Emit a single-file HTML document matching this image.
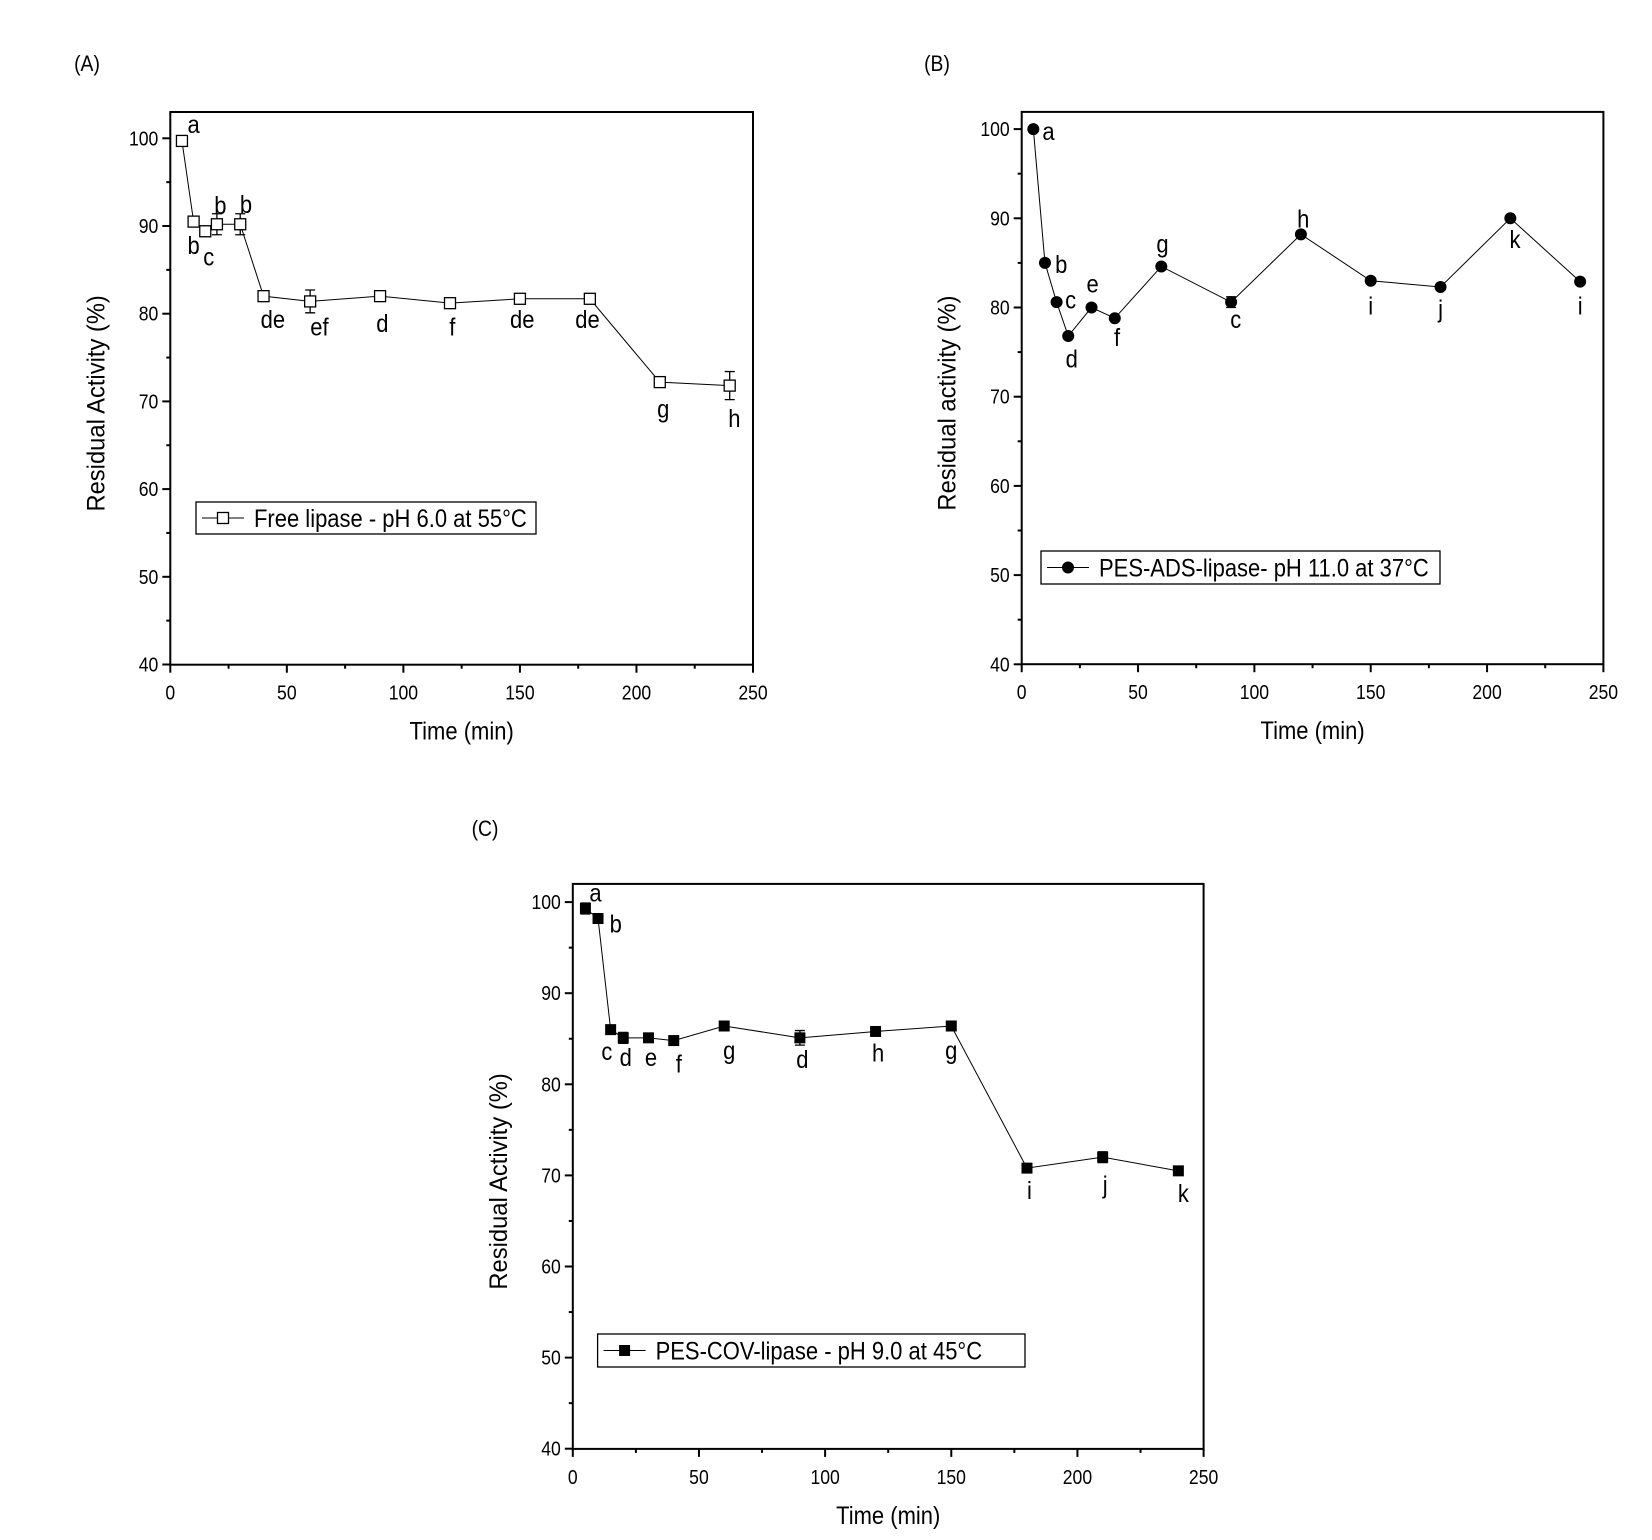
<!DOCTYPE html>
<html><head><meta charset="utf-8"><style>
html,body{margin:0;padding:0;background:#fff;}
svg{display:block;font-family:"Liberation Sans",Arial,sans-serif;}
</style></head><body>
<svg id="s" width="1652" height="1540" viewBox="0 0 1652 1540" xmlns="http://www.w3.org/2000/svg"></svg>
<script>
const S=document.getElementById('s');let h='';
function sq(x,y,fs,anchor,txt,extra){ // condensed text
 return `<text transform="translate(${x},${y}) scale(0.88,1)${extra||''}" font-size="${fs}" text-anchor="${anchor}">${txt}</text>`;
}
function panel(p){
 const X=v=>p.l+(v/250)*(p.r-p.l), Y=v=>p.y100+(100-v)/10*p.k;
 h+=`<rect x="${p.l}" y="${p.t}" width="${p.r-p.l}" height="${p.b-p.t}" fill="none" stroke="#000" stroke-width="2"/>`;
 for(let v=0;v<=250;v+=25){const x=X(v),maj=v%50==0;h+=`<line x1="${x}" y1="${p.b}" x2="${x}" y2="${p.b+(maj?8:4)}" stroke="#000" stroke-width="2"/>`;
  if(maj)h+=sq(x,p.b+35,20,'middle',v);}
 for(let v=40;v<=100;v+=5){const y=Y(v),maj=v%10==0;h+=`<line x1="${p.l}" y1="${y}" x2="${p.l-(maj?8:4)}" y2="${y}" stroke="#000" stroke-width="2"/>`;
  if(maj)h+=sq(p.l-12,y+7,20,'end',v);}
 h+=sq((p.l+p.r)/2,p.b+75,25,'middle','Time (min)');
 const cy=(p.t+p.b)/2+p.yo;
 h+=`<text transform="translate(${p.l-66},${cy}) rotate(-90) scale(0.95,1)" font-size="25" text-anchor="middle">${p.yt}</text>`;
 h+=sq(p.pl[0],p.pl[1],22,'middle',p.name);
 let pts=p.d.map(d=>[X(d[0]),Y(d[1])]);
 h+=`<polyline points="${pts.map(q=>q.join(',')).join(' ')}" fill="none" stroke="#000" stroke-width="1"/>`;
 p.d.forEach(d=>{const x=X(d[0]),y=Y(d[1]);
  if(d[2]){const e=d[2]*p.k/10;h+=`<path d="M${x},${y-e}V${y+e}M${x-5},${y-e}H${x+5}M${x-5},${y+e}H${x+5}" stroke="#000" stroke-width="1.3"/>`;}
  h+=mk(p.m,x,y);});
 p.lab.forEach(a=>{h+=sq(X(a[1]),Y(a[2])+1,25,'middle',a[0]);});
 const L=p.leg;h+=`<rect x="${L[0]}" y="${L[1]}" width="${L[2]-L[0]}" height="${L[3]-L[1]}" fill="#fff" stroke="#000" stroke-width="1.3"/>`;
 const ly=(L[1]+L[3])/2;h+=`<line x1="${L[0]+6}" y1="${ly}" x2="${L[0]+48}" y2="${ly}" stroke="#000"/>`+mk(p.m,L[0]+27,ly);
 h+=sq(L[0]+58,ly+9,25,'start',p.lt);
}
function mk(m,x,y){
 if(m=='o')return `<rect x="${x-5.5}" y="${y-5.5}" width="11" height="11" fill="#fff" stroke="#000" stroke-width="1.3"/>`;
 if(m=='c')return `<circle cx="${x}" cy="${y}" r="6" fill="#000"/>`;
 return `<rect x="${x-5.5}" y="${y-5.5}" width="11" height="11" fill="#000"/>`;
}
panel({l:170.3,r:753,t:112,b:664.7,y100:138.3,k:87.7,m:'o',yo:15,yt:'Residual Activity (%)',name:'(A)',pl:[87,71],
 d:[[5,99.7],[10,90.5],[15,89.4,0.6],[20,90.2,1.2],[30,90.2,1.2],[40,82,0.4],[60,81.4,1.3],[90,82,0.3],[120,81.2],[150,81.7],[180,81.7],[210,72.2,0.3],[240,71.8,1.6]],
 lab:[['a',10,100.7],['b',10,86.9],['c',16.5,85.6],['b',21.5,91.5],['b',32.5,91.6],['de',44,78.5],['ef',64,77.6],['d',91,78],['f',121,77.6],['de',151,78.5],['de',179,78.5],['g',211.5,68.3],['h',242,67.2]],
 leg:[196,502,536,534],lt:'Free lipase - pH 6.0 at 55°C'});
panel({l:1021.7,r:1603.4,t:111.9,b:664.2,y100:129.1,k:89.2,m:'c',yo:15,yt:'Residual activity (%)',name:'(B)',pl:[937,71],
 d:[[5,100],[10,85],[15,80.6],[20,76.8],[30,80],[40,78.8],[60,84.6],[90,80.6,0.6],[120,88.2],[150,83],[180,82.3],[210,90],[240,82.9]],
 lab:[['a',11.5,98.9],['b',17,84],['c',21,80],['d',21.5,73.4],['e',30.5,81.8],['f',41,75.8],['g',60.5,86.3],['c',92,77.8],['h',121,89.1],['i',150,79.3],['j',180,79],['k',212,86.8],['i',240,79.3]],
 leg:[1041,551,1440,584],lt:'PES-ADS-lipase- pH 11.0 at 37°C'});
panel({l:572.8,r:1203.6,t:883.9,b:1448.9,y100:902.1,k:91.1,m:'s',yo:15,yt:'Residual Activity (%)',name:'(C)',pl:[485,836],
 d:[[5,99.3,0.6],[10,98.2],[15,86],[20,85.1,0.6],[30,85.1],[40,84.8],[60,86.4],[90,85.1,0.8],[120,85.8],[150,86.4],[180,70.8],[210,72,0.6],[240,70.5]],
 lab:[['a',9,100.2],['b',17,96.8],['c',13.5,82.8],['d',21,82.1],['e',31,82.1],['f',42,81.4],['g',62,82.9],['d',91,81.9],['h',121,82.6],['g',150,82.9],['i',181,67.5],['j',211,68.1],['k',242,67.2]],
 leg:[597.6,1334,1025,1367],lt:'PES-COV-lipase - pH 9.0 at 45°C'});
S.innerHTML=h;
</script>
</body></html>
